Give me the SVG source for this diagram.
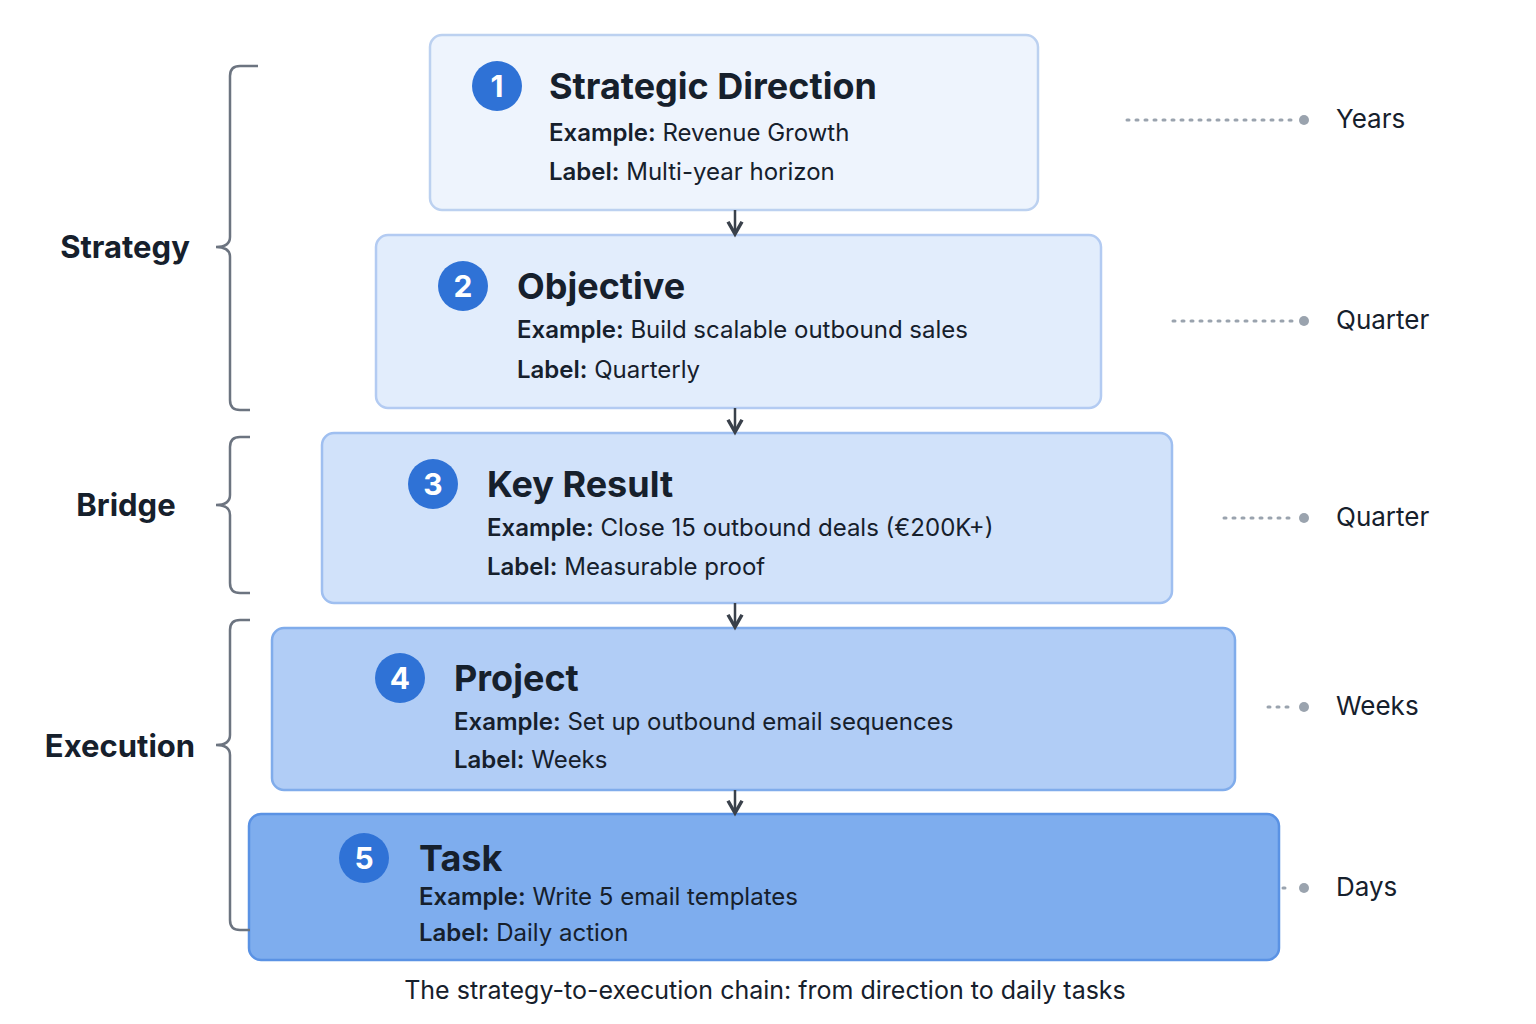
<svg xmlns="http://www.w3.org/2000/svg" width="1536" height="1024" viewBox="0 0 1536 1024">
<style>
text{font-family:"Inter","Liberation Sans",sans-serif;fill:#16202c}
.t{font-size:36px;font-weight:700}
.s{font-size:24px}
.b{font-weight:600}
.n{font-size:30px;font-weight:700;fill:#fff;text-anchor:middle}
.g{font-size:31px;font-weight:700;text-anchor:middle}
.r{font-size:26px}
.br{fill:none;stroke:#6c7480;stroke-width:2.5}
.dl{stroke:#9aa3ae;stroke-width:3;stroke-dasharray:2 7;stroke-linecap:round}
.dot{fill:#9aa3ae}
.c{fill:#2f72d6}
.ar{stroke:#3a414b;stroke-width:2.5;fill:none}
</style>
<defs><marker id="ah" viewBox="0 0 10 10" refX="8" refY="5" markerWidth="7" markerHeight="7" orient="auto"><path d="M1 1 L8 5 L1 9" fill="none" stroke="#3a414b" stroke-width="2"/></marker></defs>
<rect width="1536" height="1024" fill="#fff"/>
<g id="n1"><rect x="430" y="35" width="608" height="175" rx="12" fill="#eef4fd" stroke="#bcd1f0" stroke-width="2.5"/><circle class="c" cx="497" cy="86" r="25"/><text class="n" x="497" y="97">1</text><text class="t" x="549" y="99">Strategic Direction</text><text class="s" x="549" y="141"><tspan class="b">Example:</tspan> Revenue Growth</text><text class="s" x="549" y="180"><tspan class="b">Label:</tspan> Multi-year horizon</text></g>
<g id="n2"><rect x="376" y="235" width="725" height="173" rx="12" fill="#e2edfc" stroke="#b3cbf2" stroke-width="2.5"/><circle class="c" cx="463" cy="286" r="25"/><text class="n" x="463" y="297">2</text><text class="t" x="517" y="299">Objective</text><text class="s" x="517" y="338"><tspan class="b">Example:</tspan> Build scalable outbound sales</text><text class="s" x="517" y="378"><tspan class="b">Label:</tspan> Quarterly</text></g>
<g id="n3"><rect x="322" y="433" width="850" height="170" rx="12" fill="#d1e2fa" stroke="#9fbff0" stroke-width="2.5"/><circle class="c" cx="433" cy="484" r="25"/><text class="n" x="433" y="495">3</text><text class="t" x="487" y="497">Key Result</text><text class="s" x="487" y="536"><tspan class="b">Example:</tspan> Close 15 outbound deals (€200K+)</text><text class="s" x="487" y="575"><tspan class="b">Label:</tspan> Measurable proof</text></g>
<g id="n4"><rect x="272" y="628" width="963" height="162" rx="12" fill="#b1cdf6" stroke="#80aceb" stroke-width="2.5"/><circle class="c" cx="400" cy="678" r="25"/><text class="n" x="400" y="689">4</text><text class="t" x="454" y="691">Project</text><text class="s" x="454" y="730"><tspan class="b">Example:</tspan> Set up outbound email sequences</text><text class="s" x="454" y="768"><tspan class="b">Label:</tspan> Weeks</text></g>
<g id="n5"><rect x="249" y="814" width="1030" height="146" rx="12" fill="#7eadee" stroke="#5a92e4" stroke-width="2.5"/><circle class="c" cx="364" cy="858" r="25"/><text class="n" x="364" y="869">5</text><text class="t" x="419" y="871">Task</text><text class="s" x="419" y="905"><tspan class="b">Example:</tspan> Write 5 email templates</text><text class="s" x="419" y="941"><tspan class="b">Label:</tspan> Daily action</text></g>
<g id="connectors">
<line class="ar" x1="735" y1="210" x2="735" y2="234" marker-end="url(#ah)"/>
<line class="ar" x1="735" y1="408" x2="735" y2="432" marker-end="url(#ah)"/>
<line class="ar" x1="735" y1="603" x2="735" y2="627" marker-end="url(#ah)"/>
<line class="ar" x1="735" y1="790" x2="735" y2="813" marker-end="url(#ah)"/>
</g>
<g id="brackets">
<path class="br" d="M258 66 H240 Q230 66 230 76 V237 Q230 247 216 247 Q230 247 230 257 V400 Q230 410 240 410 H250"/>
<path class="br" d="M250 437 H240 Q230 437 230 447 V495 Q230 505 216 505 Q230 505 230 515 V583 Q230 593 240 593 H250"/>
<path class="br" d="M250 620 H240 Q230 620 230 630 V735 Q230 745 216 745 Q230 745 230 755 V920 Q230 930 240 930 H250"/>
<text class="g" x="125" y="258">Strategy</text>
<text class="g" x="126" y="516">Bridge</text>
<text class="g" x="120" y="757">Execution</text>
</g>
<g id="timescale">
<line class="dl" x1="1127" y1="120" x2="1292" y2="120"/><circle class="dot" cx="1304" cy="120" r="5"/><text class="r" x="1336" y="128">Years</text>
<line class="dl" x1="1173" y1="321" x2="1292" y2="321"/><circle class="dot" cx="1304" cy="321" r="5"/><text class="r" x="1336" y="329">Quarter</text>
<line class="dl" x1="1224" y1="518" x2="1292" y2="518"/><circle class="dot" cx="1304" cy="518" r="5"/><text class="r" x="1336" y="526">Quarter</text>
<line class="dl" x1="1268" y1="707" x2="1292" y2="707"/><circle class="dot" cx="1304" cy="707" r="5"/><text class="r" x="1336" y="715">Weeks</text>
<line class="dl" x1="1283" y1="888" x2="1292" y2="888"/><circle class="dot" cx="1304" cy="888" r="5"/><text class="r" x="1336" y="896">Days</text>
</g>
<text x="765" y="999" font-size="25" text-anchor="middle">The strategy-to-execution chain: from direction to daily tasks</text>
</svg>
